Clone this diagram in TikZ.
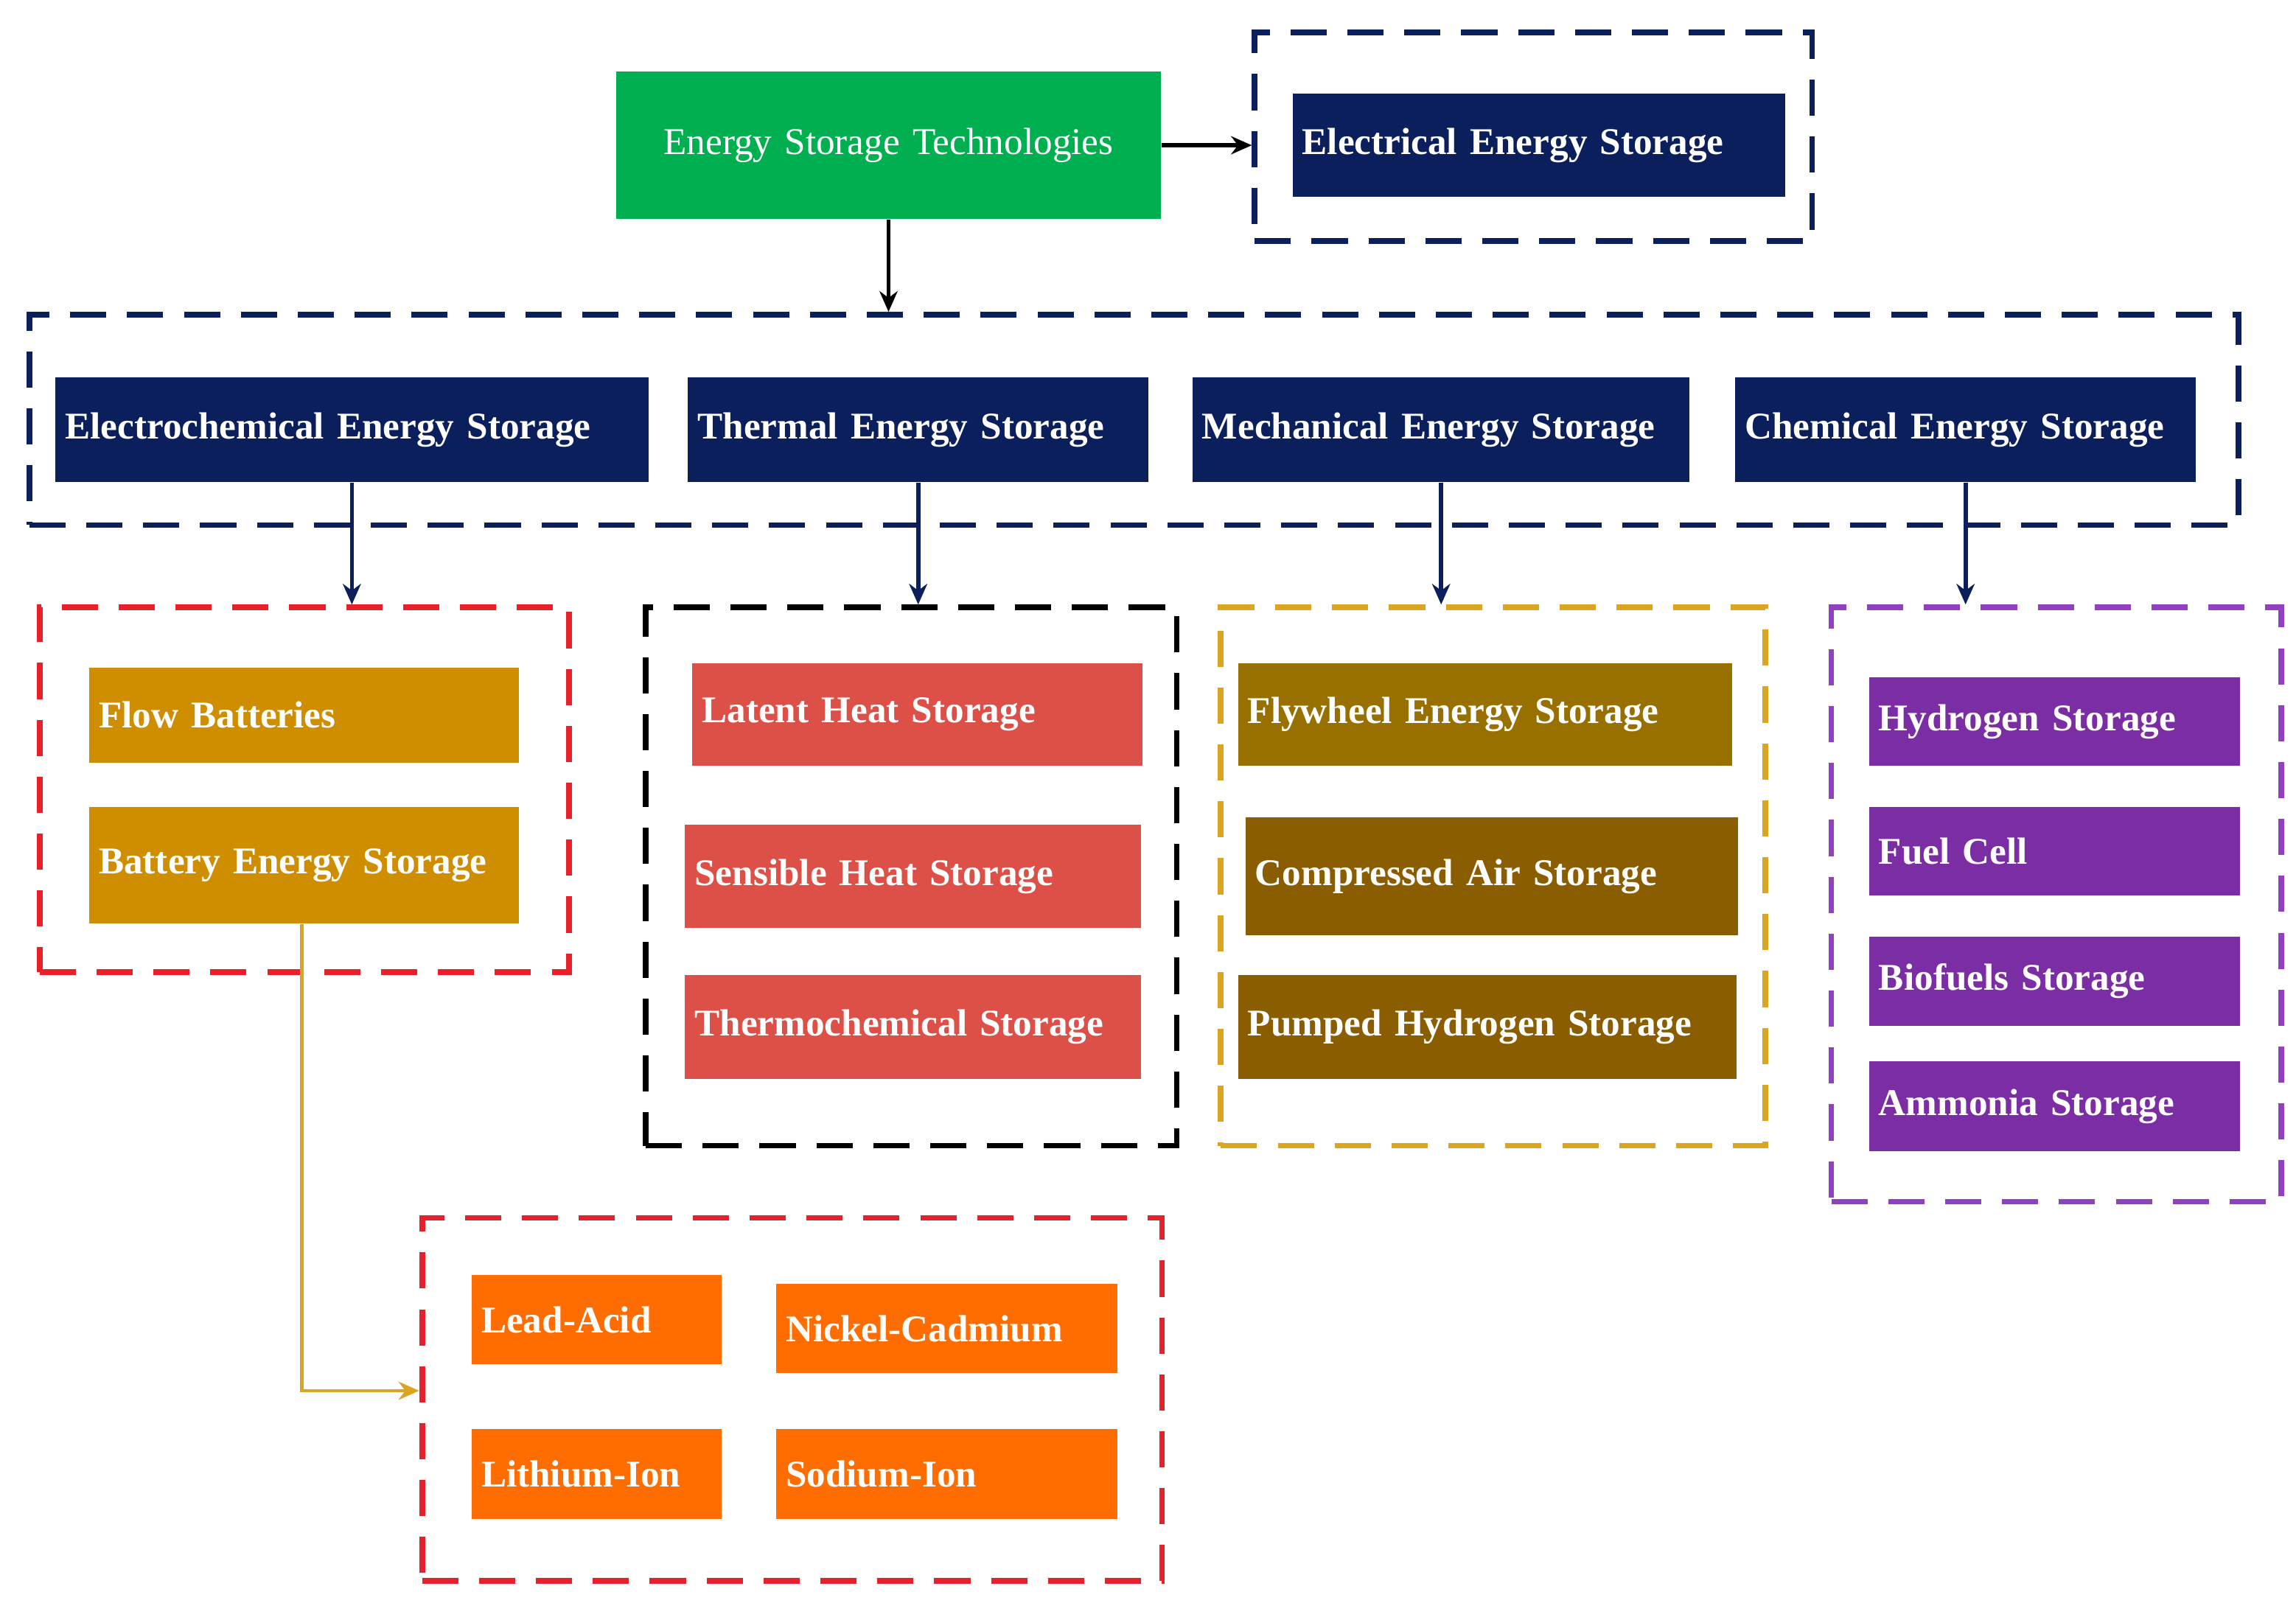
\documentclass[tikz,border=0pt]{standalone}
\usepackage{fontspec}
\setmainfont{Liberation Serif}
\usetikzlibrary{arrows.meta}
\definecolor{navy}{HTML}{0A1F5C}
\definecolor{grn}{HTML}{00B050}
\definecolor{gold}{HTML}{CF8E00}
\definecolor{tomato}{HTML}{DC5047}
\definecolor{olive1}{HTML}{987000}
\definecolor{brown1}{HTML}{8A5D00}
\definecolor{purp}{HTML}{7B2DA3}
\definecolor{orng}{HTML}{FF6D00}
\definecolor{dgold}{HTML}{DAA520}
\definecolor{dred}{HTML}{E8202A}
\definecolor{dpurp}{HTML}{9040C0}
\tikzset{
 tb/.style={anchor=north west,inner xsep=0.065cm,inner ysep=0pt,text=white,font=\fontsize{7.3}{8}\selectfont\bfseries,align=left},
 dbox/.style={draw=#1,line width=1.1pt,dash pattern=on 7pt off 4pt,anchor=north west,inner sep=0pt},
 arr/.style={-{Stealth[length=4pt,width=3.5pt]},line width=0.8pt,draw=navy}
}
\newcommand\bx[7]{\node[tb,fill=#2,minimum width={(#5-#3)*0.01cm},minimum height={(#6-#4)*0.01cm},text width={(#5-#3)*0.01cm-0.13cm}] (#1) at (#3*0.01,-#4*0.01) {#7};}
\newcommand\db[6]{\node[dbox=#2,minimum width={(#5-#3)*0.01cm},minimum height={(#6-#4)*0.01cm}] (#1) at (#3*0.01,-#4*0.01) {};}
\begin{document}
\begin{tikzpicture}
\useasboundingbox (0,0) rectangle (15.6,-10.87);
\db{d0}{navy}{851}{20}{1230}{162}
\db{d1}{navy}{18}{212}{1520}{355}
\db{d2}{dred}{25}{411}{385}{659}
\db{d3}{black}{437}{411}{798}{777}
\db{d4}{dgold}{828}{411}{1198}{777}
\db{d5}{dpurp}{1243}{411}{1549}{815}
\db{d6}{dred}{285}{826}{788}{1073}
\node[tb,fill=grn,minimum width=3.7cm,minimum height=1cm,text width=3.57cm,font=\fontsize{7.3}{8}\selectfont,align=center] (root) at (4.18,-0.48) {Energy Storage Technologies};
\bx{ees}{navy}{878}{63}{1213}{133}{Electrical Energy Storage}
\bx{ec}{navy}{37}{256}{440}{327}{Electrochemical Energy Storage}
\bx{th}{navy}{467}{256}{780}{327}{Thermal Energy Storage}
\bx{me}{navy}{810}{256}{1148}{327}{Mechanical Energy Storage}
\bx{ch}{navy}{1179}{256}{1492}{327}{Chemical Energy Storage}
\bx{fb}{gold}{60}{453}{352}{518}{Flow Batteries}
\bx{be}{gold}{60}{548}{352}{627}{Battery Energy Storage}
\bx{lh}{tomato}{470}{450}{776}{520}{Latent Heat Storage}
\bx{sh}{tomato}{465}{560}{775}{630}{Sensible Heat Storage}
\bx{tc}{tomato}{465}{662}{775}{733}{Thermochemical Storage}
\bx{fw}{olive1}{841}{450}{1177}{520}{Flywheel Energy Storage}
\bx{ca}{brown1}{846}{555}{1181}{635}{Compressed Air Storage}
\bx{ph}{brown1}{841}{662}{1180}{733}{Pumped Hydrogen Storage}
\bx{hs}{purp}{1270}{460}{1522}{520}{Hydrogen Storage}
\bx{fc}{purp}{1270}{548}{1522}{608}{Fuel Cell}
\bx{bf}{purp}{1270}{636}{1522}{697}{Biofuels Storage}
\bx{am}{purp}{1270}{721}{1522}{782}{Ammonia Storage}
\bx{la}{orng}{320}{866}{490}{927}{Lead-Acid}
\bx{nc}{orng}{527}{872}{759}{933}{Nickel-Cadmium}
\bx{li}{orng}{320}{971}{490}{1032}{Lithium-Ion}
\bx{na}{orng}{527}{971}{759}{1032}{Sodium-Ion}
\draw[arr,draw=black] (root.east) -- (d0.west|-root.east);
\draw[arr,draw=black] (root.south) -- (root.south|-d1.north);
\draw[arr] (ec.south) -- (ec.south|-d2.north);
\draw[arr] (th.south) -- (th.south|-d3.north);
\draw[arr] (me.south) -- (me.south|-d4.north);
\draw[arr] (ch.south) -- (ch.south|-d5.north);
\coordinate (bc) at (2.05,-9.45);
\draw[arr,draw=dgold,line width=0.7pt] (be.south-|bc) -- (bc) -- (d6.west|-bc);
\end{tikzpicture}
\end{document}
